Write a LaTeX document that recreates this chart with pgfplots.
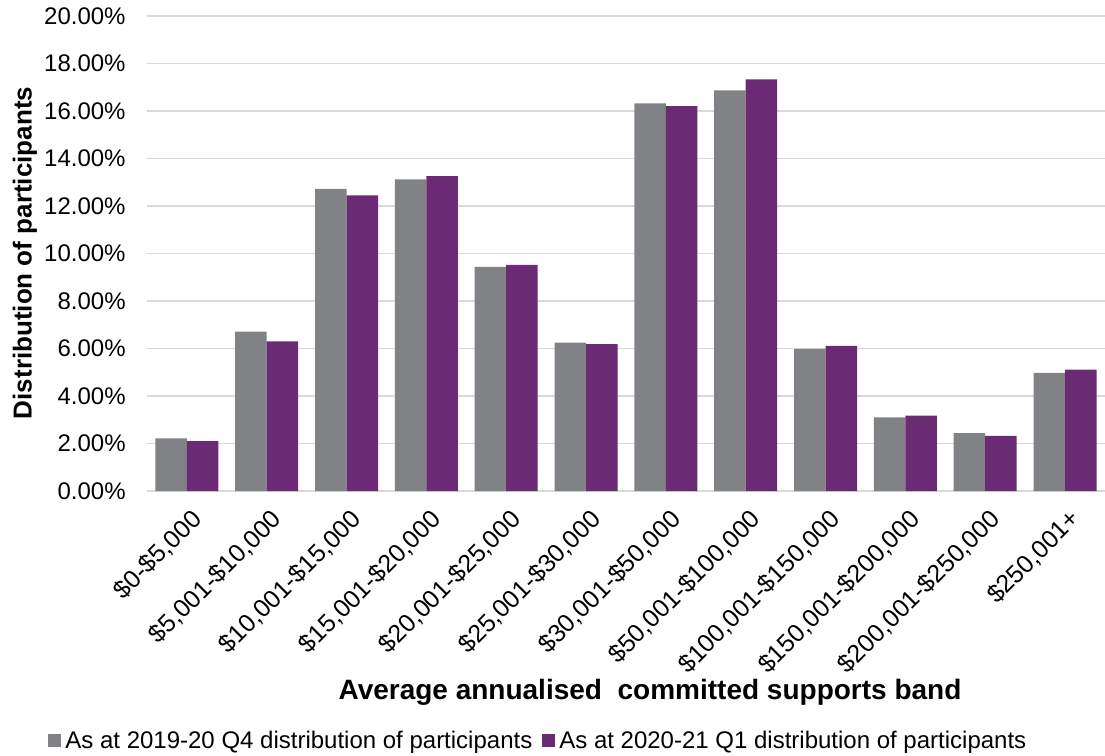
\documentclass[border=0pt]{standalone}
\usepackage{pgfplots}
\pgfplotsset{compat=1.18}
\usepackage{fontspec}
\setmainfont{Liberation Sans}
\definecolor{bargray}{RGB}{128,130,133}
\definecolor{barpurple}{RGB}{107,42,116}
\definecolor{gridgray}{RGB}{217,217,217}
\begin{document}
\begin{tikzpicture}
\useasboundingbox (0,0) rectangle (552.5pt,378pt);
\begin{axis}[
  at={(73.5pt,132.5pt)}, anchor=south west,
  scale only axis, width=479pt, height=237.5pt,
  ybar=0pt, bar width=15.75pt,
  xmin=-0.5, xmax=11.5, ymin=0, ymax=20,
  xtick={0,...,11},
  xticklabels={\$0-\$5{,}000,\$5{,}001-\$10{,}000,\$10{,}001-\$15{,}000,\$15{,}001-\$20{,}000,\$20{,}001-\$25{,}000,\$25{,}001-\$30{,}000,\$30{,}001-\$50{,}000,\$50{,}001-\$100{,}000,\$100{,}001-\$150{,}000,\$150{,}001-\$200{,}000,\$200{,}001-\$250{,}000,\$250{,}001+},
  ytick={0,2,...,20},
  yticklabels={0.00\%,2.00\%,4.00\%,6.00\%,8.00\%,10.00\%,12.00\%,14.00\%,16.00\%,18.00\%,20.00\%},
  axis x line*=bottom, axis y line*=left,
  x axis line style={draw=gridgray, line width=0.75pt, -},
  y axis line style={draw=none},
  major tick length=0pt,
  ymajorgrids, grid style={draw=gridgray, line width=0.75pt},
  tick label style={font=\fontsize{12}{14}\selectfont, text=black},
  yticklabel style={anchor=east, inner sep=0pt, xshift=-10.5pt},
  xticklabel style={xshift=1.5pt, yshift=-8pt, rotate=45, anchor=north east, inner sep=0pt, font=\fontsize{12.5}{14}\selectfont},
  legend columns=2,
  legend style={at={(-0.1033,-0.526)}, anchor=west, draw=none, fill=none,
    font=\fontsize{12}{14}\selectfont, inner sep=0pt,
    /tikz/every even column/.append style={column sep=3pt}},
  legend image code/.code={\fill[#1] (0pt,-3.25pt) rectangle (6.5pt,3.25pt);},
]
\addplot[fill=bargray, draw=none] coordinates {
(0,2.22) (1,6.71) (2,12.72) (3,13.12) (4,9.44) (5,6.25) (6,16.32) (7,16.87) (8,5.98) (9,3.10) (10,2.44) (11,4.97)};
\addplot[fill=barpurple, draw=none] coordinates {
(0,2.10) (1,6.30) (2,12.45) (3,13.26) (4,9.52) (5,6.18) (6,16.20) (7,17.33) (8,6.11) (9,3.17) (10,2.32) (11,5.11)};
\legend{As at 2019-20 Q4 distribution of participants, As at 2020-21 Q1 distribution of participants}
\end{axis}
\node[rotate=90, font=\bfseries\fontsize{13}{15}\selectfont] at (12.5pt,251.5pt) {Distribution of participants};
\node[font=\bfseries\fontsize{14}{16}\selectfont] at (325pt,32pt) {Average annualised\ \ committed supports band};
\end{tikzpicture}
\end{document}
